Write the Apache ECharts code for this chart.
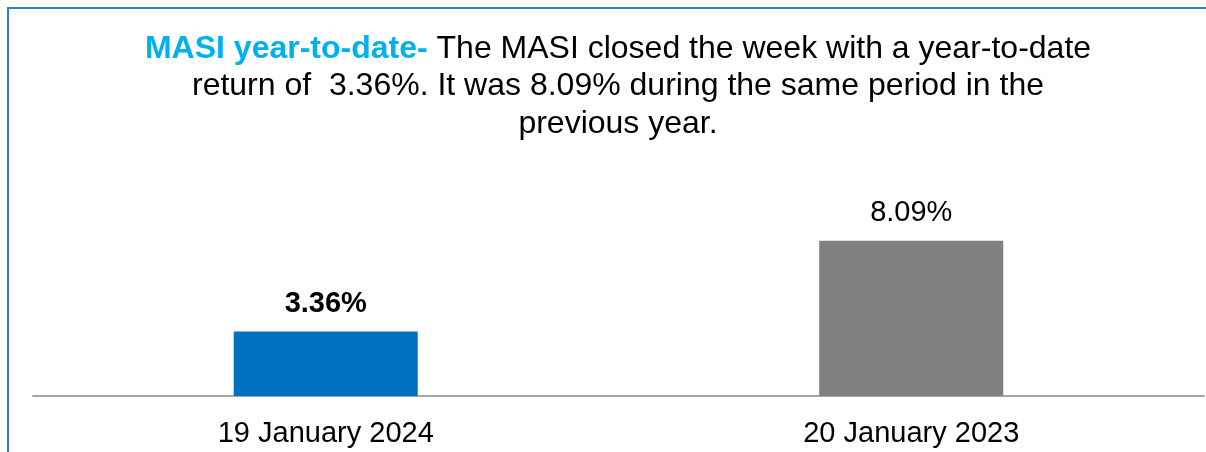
<!DOCTYPE html>
<html><head><meta charset="utf-8">
<script src="https://cdn.jsdelivr.net/npm/echarts@6/dist/echarts.min.js"></script>
<style>html,body{margin:0;padding:0;background:#fff}#c{width:1206px;height:452px}</style>
</head><body><div id="c"></div>
<script>
const categories = ['19 January 2024', '20 January 2023'];
const values = [3.36, 8.09];
const valueLabels = ['3.36%', '8.09%'];
const titleHighlight = 'MASI year-to-date-';
const titleLines = [' The MASI closed the week with a year-to-date', 'return of  3.36%. It was 8.09% during the same period in the', 'previous year.'];

const chart = echarts.init(document.getElementById('c'), null, {renderer: 'canvas'});
const FONT = '"Liberation Sans", Arial, sans-serif';
chart.setOption({
  animation: false,
  title: {
    text: '{h|' + titleHighlight + '}{n|' + titleLines[0] + '}\n{n|' + titleLines[1] + '}\n{n|' + titleLines[2] + '}',
    left: 613, top: 25, textAlign: 'center',
    textStyle: {
      fontFamily: FONT, fontSize: 32, lineHeight: 37.5, fontWeight: 'normal',
      rich: {
        h: {color: '#00B0F0', fontWeight: 'bold', fontSize: 32, fontFamily: FONT, lineHeight: 37.5},
        n: {color: '#000', fontWeight: 'normal', fontSize: 32, fontFamily: FONT, lineHeight: 37.5}
      }
    }
  },
  graphic: [{
    type: 'polyline', shape: {points: [[8, 452], [8, 8], [1206, 8]]},
    style: {stroke: '#2A7FD4', lineWidth: 2, fill: null}
  }],
  grid: {left: 33, right: 2, top: 204, bottom: 56},
  xAxis: {
    type: 'category', data: categories,
    axisLine: {lineStyle: {color: '#A6A6A6', width: 2}},
    axisTick: {show: false},
    axisLabel: {color: '#000', fontSize: 29, fontFamily: FONT, margin: 23}
  },
  yAxis: {type: 'value', min: 0, max: 10, show: false, splitLine: {show: false}},
  series: [{
    type: 'bar', barWidth: 184,
    data: values.map((v, i) => ({
      value: v,
      itemStyle: {color: i === 0 ? '#0070C0' : '#808080'},
      label: {fontWeight: i === 0 ? 'bold' : 'normal'}
    })),
    label: {
      show: true, position: 'top', distance: 13, color: '#000', fontSize: 29, fontFamily: FONT,
      formatter: p => valueLabels[p.dataIndex]
    }
  }]
});
</script></body></html>
